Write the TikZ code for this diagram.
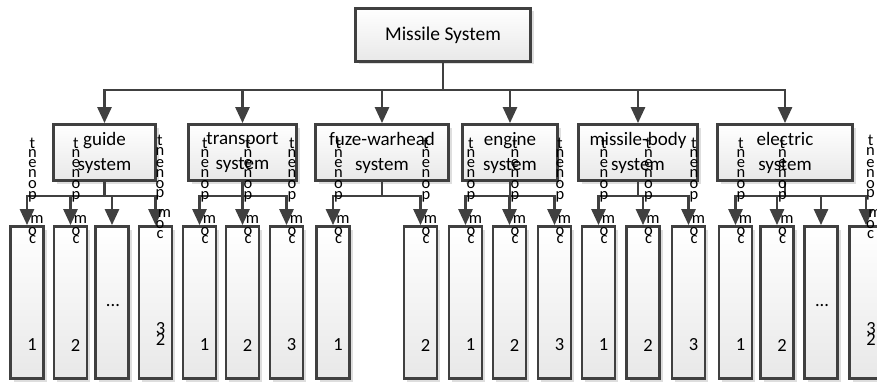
\documentclass[tikz,border=0pt]{standalone}
\usepackage{fontspec}
\setmainfont{Carlito}
\usetikzlibrary{arrows.meta,shadows}
\definecolor{edge}{HTML}{404040}

\tikzset{
  box/.style={draw=edge, line width=2.8pt, top color=white, bottom color=black!9,
    drop shadow={shadow xshift=3pt, shadow yshift=-3pt, fill=black!13, opacity=1},
    inner sep=0pt},
  rootbox/.style={box, minimum width=175pt, minimum height=53pt,
    font=\fontsize{19.5}{23}\selectfont},
  subbox/.style={box, minimum height=56pt, align=center,
    font=\fontsize{19}{25}\selectfont},
  partbox/.style={box, minimum width=33pt, minimum height=152pt},
  link/.style={draw=edge, line width=2.7pt},
  feed/.style={link, -{Triangle[length=16pt,width=14pt]}},
  glyph/.style={inner sep=0pt, anchor=base, font=\fontsize{16.5}{16.5}\selectfont},
  num/.style={inner sep=0pt, font=\fontsize{18.5}{18.5}\selectfont},
}

\begin{document}
\begin{tikzpicture}[x=1pt, y=-1pt]
\useasboundingbox (0,0) rectangle (877,385);

% top level
\node[rootbox] (root) at (443,35) {\raisebox{-2.5pt}{Missile System}};

% subsystems
\node[subbox, minimum width=102pt] (guide)    at (104.5,152.5) {guide\\system};
\node[subbox, minimum width=108pt] (transport) at (242.5,152.5) {transport\\system};
\node[subbox, minimum width=133pt] (fuze)     at (382,152.5)   {fuze-warhead\\system};
\node[subbox, minimum width=95pt]  (engine)   at (510,152.5)   {engine\\system};
\node[subbox, minimum width=119pt] (body)     at (638,152.5)   {missile-body\\system};
\node[subbox, minimum width=135pt] (electric) at (785,152.5)   {electric\\system};

% components
\foreach \n/\x in {g1/27, g2/70.5, g3/112, g4/155.5,
                   t1/199.5, t2/242.5, t3/286.5,
                   f1/333, f2/420.5,
                   e1/465.5, e2/509.5, e3/554.5,
                   b1/598.5, b2/643, b3/688.5,
                   l1/735.5, l2/777, l3/821, l4/866}
  \node[partbox] (\n) at (\x,302.5) {};

% bus rows
\coordinate (bus) at (0,90);
\coordinate (sbus) at (0,196);

\draw[link] (root.south) -- (root.south |- bus);
\foreach \s in {guide, transport, fuze, engine, body, electric}
  \draw[feed] (root.south |- bus) -| (\s.north);

\foreach \s/\parts in {guide/{g1,g2,g3,g4}, transport/{t1,t2,t3}, fuze/{f1,f2},
                       engine/{e1,e2,e3}, body/{b1,b2,b3}, electric/{l1,l2,l3,l4}} {
  \draw[link] (\s.south) -- (\s.south |- sbus);
  \foreach \p in \parts
    \draw[feed] (\s.south |- sbus) -| (\p.north);
}

% stacked component labels
\foreach \n/\x in {g1/27, g2/70.5, t1/199.5, t2/242.5, t3/286.5,
                   f1/333, f2/420.5, e1/465.5, e2/509.5, e3/554.5,
                   b1/598.5, b2/643, b3/688.5, l1/735.5, l2/777}
  \foreach \ch/\b/\dx [count=\k] in {t/148/0, n/157/0, e/167/0, n/177/0, o/188/0,
                                      p/199/0, m/223/4.5, o/235/0, c/243/0}
    \node[glyph] (\n-\k) at (\x+5.5+\dx,\b) {\ch};

\foreach \n/\x in {g4/155.5, l4/866}
  \foreach \ch/\b/\dx [count=\k] in {t/145/0, n/155/0, e/167/0, n/177/0, o/188/0,
                                      p/197/0, m/217/4.5, o/228/0, c/238/0}
    \node[glyph] (\n-\k) at (\x+4.5+\dx,\b) {\ch};

% component numbers
\foreach \n/\x/\t in {g1/27/1, g2/70.5/2, t1/199.5/1, t2/242.5/2, t3/286.5/3,
                      f1/333/1, f2/420.5/2, e1/465.5/1, e2/509.5/2, e3/554.5/3,
                      b1/598.5/1, b2/643/2, b3/688.5/3, l1/735.5/1, l2/777/2}
  \node[num] (\n-num) at (\x+5,345) {\t};

\foreach \n/\x in {g3/112, l3/821}
  \node[num] (\n-dots) at (\x+1,306) {...};

\foreach \n/\x in {g4/155.5, l4/866} {
  \node[num] (\n-hi) at (\x+5,328.5) {3};
  \node[num] (\n-lo) at (\x+5,339.5) {2};
}
\end{tikzpicture}
\end{document}
